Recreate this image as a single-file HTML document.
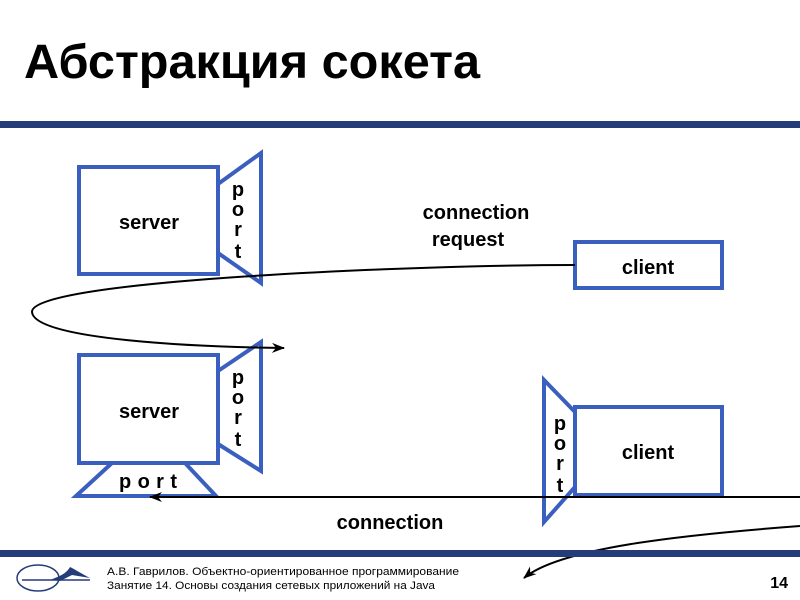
<!DOCTYPE html>
<html><head><meta charset="utf-8"><style>
html,body{margin:0;padding:0;background:#fff;width:800px;height:600px;overflow:hidden}
svg{display:block}
text{font-family:"Liberation Sans",Arial,sans-serif}
</style></head><body>
<svg width="800" height="600" viewBox="0 0 800 600" xmlns="http://www.w3.org/2000/svg">
<defs>
<marker id="ah" markerWidth="14" markerHeight="10" refX="12" refY="5" orient="auto" markerUnits="userSpaceOnUse">
<path d="M0,0 L13,5 L0,10 L4,5 Z" fill="#000"/>
</marker>
</defs>
<text x="24" y="78" font-size="48" font-weight="bold" textLength="456" lengthAdjust="spacingAndGlyphs">Абстракция сокета</text>
<rect x="0" y="121" width="800" height="7" fill="#243c78"/>

<g fill="none" stroke="#3a5fbf" stroke-width="4">
<rect x="79" y="167" width="139" height="107"/>
<path d="M218,184 L261,153 L261,283 L218,253"/>
<rect x="79" y="355" width="139" height="108"/>
<path d="M218,371 L261,342 L261,471 L218,444"/>
<path d="M112,463 L76,496 L216,496 L185,463"/>
<rect x="575" y="242" width="147" height="46"/>
<rect x="575" y="407" width="147" height="88"/>
<path d="M575,412 L544,380 L544,522 L575,487"/>
</g>

<g font-weight="bold" font-size="20" text-anchor="middle" fill="#000">
<text x="149" y="229">server</text>
<text x="149" y="418">server</text>
<text x="648" y="274">client</text>
<text x="648" y="459">client</text>
<text x="476" y="219">connection</text>
<text x="468" y="246">request</text>
<text x="390" y="529">connection</text>
<text x="148" y="488" textLength="58" lengthAdjust="spacing">p o r t</text>
<text x="238" y="196">p</text><text x="238" y="216">o</text><text x="238" y="236">r</text><text x="238" y="258">t</text>
<text x="238" y="384">p</text><text x="238" y="404">o</text><text x="238" y="424">r</text><text x="238" y="446">t</text>
<text x="560" y="430">p</text><text x="560" y="450">o</text><text x="560" y="470">r</text><text x="560" y="492">t</text>
</g>

<g fill="none" stroke="#000" stroke-width="2">
<path d="M575,265 C420,265 30,280 32,312 C34,340 200,347 284,348" marker-end="url(#ah)"/>
<path d="M800,497 L150,497" marker-end="url(#ah)"/>
<path d="M800,526 C680,535 560,548 524,578" marker-end="url(#ah)"/>
</g>

<rect x="0" y="550" width="800" height="7" fill="#243c78"/>
<g>
<ellipse cx="38" cy="578" rx="21" ry="13" fill="none" stroke="#243c78" stroke-width="1.5"/>
<path d="M22,580 L90,580" stroke="#243c78" stroke-width="1.5"/>
<path d="M50,580 C60,576 66,574 70,567 C76,570 82,574 90,578 L72,575 L60,581 Z" fill="#243c78"/>
</g>
<text x="107" y="575" font-size="11" fill="#000" textLength="352" lengthAdjust="spacingAndGlyphs">А.В. Гаврилов. Объектно-ориентированное программирование</text>
<text x="107" y="589" font-size="11" fill="#000" textLength="328" lengthAdjust="spacingAndGlyphs">Занятие 14. Основы создания сетевых приложений на Java</text>
<text x="788" y="588" font-size="16" font-weight="bold" text-anchor="end" fill="#000">14</text>
</svg>
</body></html>
